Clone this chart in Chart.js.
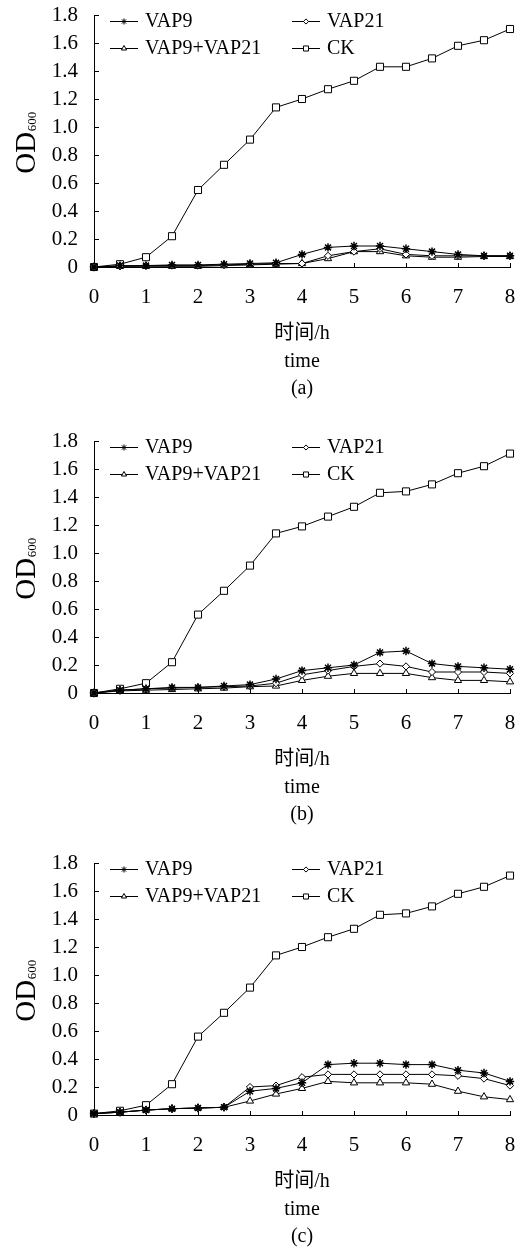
<!DOCTYPE html>
<html><head><meta charset="utf-8">
<script src="https://cdn.jsdelivr.net/npm/chart.js@4"></script>
<style>
html,body{margin:0;padding:0;background:#fff;}
body{width:516px;height:1249px;position:relative;overflow:hidden;}
.panel{position:absolute;left:0;width:516px;height:420px;}
canvas{display:block;}
</style></head><body>
<div class="panel" style="top:0px"><canvas id="c0" width="516" height="420"></canvas></div>
<div class="panel" style="top:426px"><canvas id="c1" width="516" height="420"></canvas></div>
<div class="panel" style="top:848px"><canvas id="c2" width="516" height="420"></canvas></div>
<script>
// ---- data ----
const hours = [0,0.5,1,1.5,2,2.5,3,3.5,4,4.5,5,5.5,6,6.5,7,7.5,8];
const xTickValues = [0,1,2,3,4,5,6,7,8];
const yTickValues = [0,0.2,0.4,0.6,0.8,1.0,1.2,1.4,1.6,1.8];
const yTickLabels = ['0','0.2','0.4','0.6','0.8','1.0','1.2','1.4','1.6','1.8'];
const seriesNames = ['VAP9','VAP21','VAP9+VAP21','CK'];
const panelLabels = ['(a)','(b)','(c)'];
const xTitleLines = ['时间/h','time'];
const yTitleMain = 'OD';
const yTitleSub = '600';

const vap9A  = [0.00,0.01,0.01,0.015,0.015,0.02,0.025,0.03,0.09,0.14,0.15,0.15,0.13,0.11,0.09,0.08,0.08];
const vap21A = [0.00,0.005,0.01,0.01,0.01,0.015,0.02,0.025,0.025,0.08,0.11,0.13,0.09,0.08,0.08,0.08,0.08];
const mixA   = [0.00,0.005,0.005,0.005,0.005,0.01,0.015,0.02,0.025,0.06,0.11,0.11,0.08,0.07,0.07,0.075,0.075];
const ckA    = [0.00,0.02,0.07,0.22,0.55,0.73,0.91,1.14,1.20,1.27,1.33,1.43,1.43,1.49,1.58,1.62,1.70];

const vap9B  = [0.00,0.02,0.03,0.04,0.04,0.05,0.06,0.10,0.16,0.18,0.20,0.29,0.30,0.21,0.19,0.18,0.17];
const vap21B = [0.00,0.02,0.03,0.035,0.04,0.045,0.05,0.07,0.13,0.16,0.19,0.21,0.19,0.15,0.15,0.15,0.14];
const mixB   = [0.00,0.015,0.02,0.025,0.03,0.035,0.045,0.05,0.09,0.12,0.14,0.14,0.14,0.11,0.09,0.09,0.08];
const ckB    = [0.00,0.03,0.07,0.22,0.56,0.73,0.91,1.14,1.19,1.26,1.33,1.43,1.44,1.49,1.57,1.62,1.71];

const vap9C  = [0.01,0.02,0.035,0.045,0.05,0.055,0.17,0.19,0.23,0.36,0.37,0.37,0.36,0.36,0.32,0.30,0.24];
const vap21C = [0.01,0.02,0.035,0.045,0.05,0.055,0.20,0.21,0.27,0.29,0.29,0.29,0.29,0.29,0.28,0.26,0.21];
const mixC   = [0.01,0.02,0.035,0.045,0.05,0.055,0.10,0.15,0.19,0.24,0.23,0.23,0.23,0.22,0.17,0.13,0.11];
const ckC    = [0.01,0.03,0.07,0.22,0.56,0.73,0.91,1.14,1.20,1.27,1.33,1.43,1.44,1.49,1.58,1.63,1.71];

const panels = [
  [vap9A, vap21A, mixA, ckA],
  [vap9B, vap21B, mixB, ckB],
  [vap9C, vap21C, mixC, ckC]
];

// ---- styles ----
const FONT = '"Liberation Serif", "Times New Roman", "Noto Sans CJK SC", serif';
const markerStyles = ['star','rectRot','triangle','rect'];
const markerRadius = [4.2, 3.6, 4.2, 5];

const innerTicks = {
  id: 'innerTicks',
  beforeDatasetsDraw(chart) {
    const ctx = chart.ctx, xs = chart.scales.x, ys = chart.scales.y;
    const a = chart.chartArea;
    ctx.save();
    ctx.strokeStyle = '#000'; ctx.lineWidth = 1;
    ctx.beginPath();
    ys.ticks.forEach(t => {
      if (t.value === 0) return;
      const y = Math.round(ys.getPixelForValue(t.value)) + 0.5;
      ctx.moveTo(a.left, y); ctx.lineTo(a.left + 5, y);
    });
    xs.ticks.forEach(t => {
      if (t.value === 0) return;
      const x = Math.round(xs.getPixelForValue(t.value)) + 0.5;
      ctx.moveTo(x, a.bottom); ctx.lineTo(x, a.bottom - 4);
    });
    ctx.stroke();
    ctx.restore();
  }
};

const yTitle = {
  id: 'yTitle',
  afterDraw(chart) {
    const ctx = chart.ctx, a = chart.chartArea;
    ctx.save();
    ctx.fillStyle = '#000';
    ctx.translate(35, (a.top + a.bottom) / 2 + 2);
    ctx.rotate(-Math.PI / 2);
    ctx.textBaseline = 'alphabetic';
    ctx.font = '29px ' + FONT;
    const w1 = ctx.measureText(yTitleMain).width;
    ctx.font = '13px ' + FONT;
    const w2 = ctx.measureText(yTitleSub).width;
    const x0 = -(w1 + w2) / 2;
    ctx.font = '29px ' + FONT;
    ctx.fillText(yTitleMain, x0, 0);
    ctx.font = '13px ' + FONT;
    ctx.fillText(yTitleSub, x0 + w1 + 0.5, 1);
    ctx.restore();
  }
};

const legendBox = {
  id: 'legendBox',
  afterDraw(chart) {
    const ctx = chart.ctx;
    const cols = [110, 292], rows = [21, 48];
    ctx.save();
    chart.data.datasets.forEach((ds, i) => {
      const x = cols[i % 2], y = rows[Math.floor(i / 2)];
      ctx.strokeStyle = '#000'; ctx.lineWidth = 1;
      ctx.beginPath(); ctx.moveTo(x, y + 0.5); ctx.lineTo(x + 28, y + 0.5); ctx.stroke();
      ctx.fillStyle = '#fff'; ctx.strokeStyle = '#000'; ctx.lineWidth = 1;
      Chart.helpers.drawPoint(ctx, {pointStyle: ds.pointStyle, radius: ds.pointRadius * 0.72, borderWidth: 1, rotation: 0}, x + 14, y + 0.5);
      ctx.fillStyle = '#000';
      ctx.font = '20px ' + FONT;
      ctx.textBaseline = 'middle';
      ctx.textAlign = 'left';
      ctx.fillText(ds.label, x + 35, y + 1);
    });
    ctx.restore();
  }
};

panels.forEach((series, p) => {
  const datasets = series.map((vals, i) => ({
    label: seriesNames[i],
    data: hours.map((h, k) => ({x: h, y: vals[k]})),
    borderColor: '#000',
    borderWidth: 1,
    backgroundColor: '#fff',
    pointStyle: markerStyles[i],
    pointRadius: markerRadius[i],
    pointBackgroundColor: '#fff',
    pointBorderColor: '#000',
    pointBorderWidth: i === 0 ? 1.5 : 1,
    tension: 0,
    clip: false
  }));
  new Chart(document.getElementById('c' + p), {
    type: 'line',
    data: {datasets},
    options: {
      responsive: false,
      animation: false,
      devicePixelRatio: 1,
      layout: {padding: {top: 15, right: 6, left: 0, bottom: 0}},
      plugins: {legend: {display: false}, tooltip: {enabled: false}},
      scales: {
        x: {
          type: 'linear', min: 0, max: 8,
          afterBuildTicks(s) { s.ticks = xTickValues.map(v => ({value: v})); },
          ticks: {autoSkip: false, color: '#000', font: {family: FONT, size: 21}, padding: 0, maxRotation: 0,
                  callback: v => String(v)},
          grid: {display: false, drawTicks: true, tickLength: 18},
          border: {display: true, color: '#000', width: 1},
          title: {display: true, text: [...xTitleLines, panelLabels[p]], color: '#000',
                  font: {family: FONT, size: 20, lineHeight: 1.38}, padding: {top: 0, bottom: 17}},
          afterFit(s) { s.height = 153; }
        },
        y: {
          min: 0, max: 1.8,
          afterBuildTicks(s) { s.ticks = yTickValues.map(v => ({value: v})); },
          ticks: {autoSkip: false, color: '#000', font: {family: FONT, size: 21}, padding: 0,
                  callback: (v, idx) => yTickLabels[idx]},
          grid: {display: false, drawTicks: true, tickLength: 16},
          border: {display: true, color: '#000', width: 1},
          afterFit(s) { s.width = 94; }
        }
      }
    },
    plugins: [innerTicks, yTitle, legendBox]
  });
});
</script>
</body></html>
